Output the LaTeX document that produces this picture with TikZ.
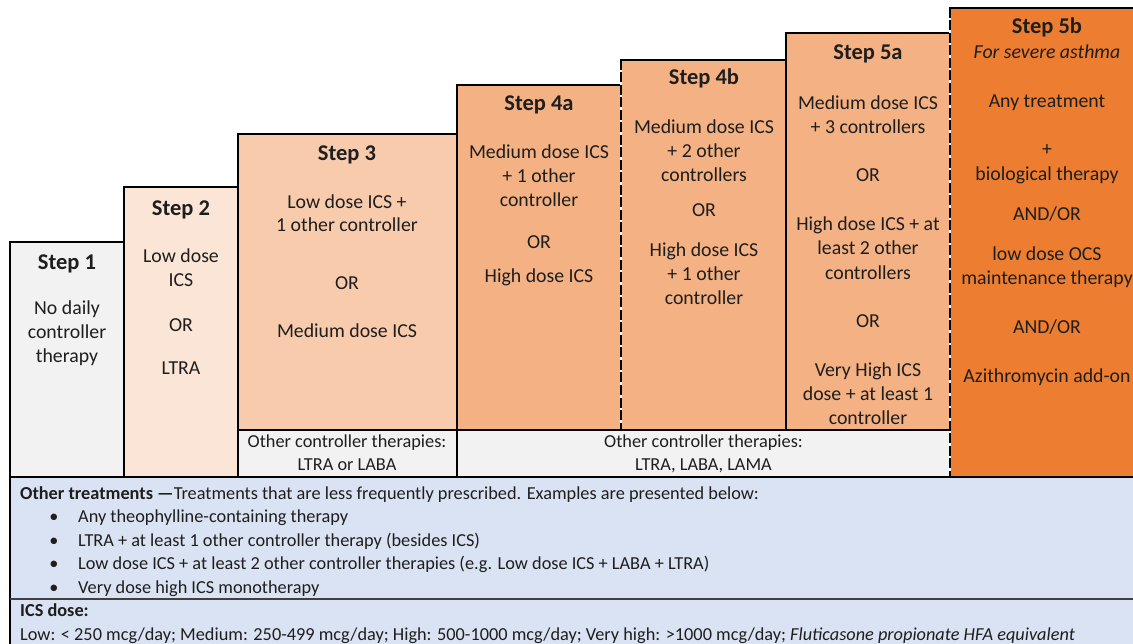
\documentclass[tikz,border=0pt]{standalone}
\usepackage{fontspec}
\setmainfont{Carlito}
\definecolor{stepone}{HTML}{F2F2F2}
\definecolor{steptwo}{HTML}{FBE5D6}
\definecolor{stepthree}{HTML}{F8CBAD}
\definecolor{stepfour}{HTML}{F4B183}
\definecolor{stepfive}{HTML}{ED7D31}
\definecolor{othergrey}{HTML}{F2F2F2}
\definecolor{panelblue}{HTML}{DAE3F3}
\definecolor{txt}{HTML}{1E1E1E}
\begin{document}
\begin{tikzpicture}[x=1pt,y=-1pt,
  frame/.style={line width=2.8pt, draw=black, line cap=rect},
  dashsep/.style={line width=2.8pt, draw=black, line cap=butt, dash pattern=on 10pt off 2.5pt},
  gapsep/.style={line width=2.8pt, draw=white, line cap=butt},
  tx/.style={anchor=base, inner sep=0pt, yshift=-1.5pt, text=txt, font=\fontsize{19.8}{24}\selectfont},
  ttl/.style={anchor=base, inner sep=0pt, yshift=-1pt, text=txt, font=\fontsize{22.5}{27}\selectfont\bfseries},
  sm/.style={anchor=base, inner sep=0pt, yshift=-1.2pt, text=txt, font=\fontsize{18.3}{22}\selectfont},
  smw/.style={sm, anchor=base west}]
\useasboundingbox (0,0) rectangle (1133,644);
\clip (0,0) rectangle (1133,644);
\fill[white] (0,0) rectangle (1133,644);

% step columns
\fill[stepone]   (10,242)  rectangle (124,477);
\fill[steptwo]   (124,187) rectangle (238,477);
\fill[stepthree] (238,134) rectangle (457,430);
\fill[stepfour]  (457,85)  rectangle (621,430);
\fill[stepfour]  (621,60)  rectangle (786,430);
\fill[stepfour]  (786,33)  rectangle (950,430);
\fill[stepfive]  (950,8)   rectangle (1160,477);
% other controller strips
\fill[othergrey] (238,430) rectangle (457,477);
\fill[othergrey] (457,430) rectangle (950,477);
% lower panel
\fill[panelblue] (10,477) rectangle (1160,660);

% outlines of the staircase
\draw[frame] (10,660) -- (10,242) -- (124,242);
\draw[frame] (124,477) -- (124,187) -- (238,187);
\draw[frame] (238,477) -- (238,134) -- (457,134);
\draw[frame] (457,477) -- (457,85) -- (621,85);
\draw[frame] (621,60) -- (786,60);
\draw[frame] (786,430) -- (786,33) -- (950,33);
\draw[frame] (950,8) -- (1160,8);
\draw[frame] (238,430) -- (950,430);
\draw[frame] (10,477) -- (1160,477);
% dashed dividers
\draw[gapsep] (621,60) -- (621,430);
\draw[dashsep] (621,60) -- (621,430);
\draw[gapsep] (950,8) -- (950,477);
\draw[dashsep] (950,8) -- (950,477);
% separator in the lower panel
\draw[line width=1.6pt, draw=black!75] (10,599) -- (1160,599);

% Step 1
\node[ttl] (s1t) at (67,269) {Step 1};
\node[tx] (s1a) at (67,313) {No daily};
\node[tx] (s1b) at (67,337) {controller};
\node[tx] (s1c) at (67,361) {therapy};
% Step 2
\node[ttl] (s2t) at (181,215) {Step 2};
\node[tx] (s2a) at (181,261) {Low dose};
\node[tx] (s2b) at (181,285) {ICS};
\node[tx] (s2c) at (181,330) {OR};
\node[tx] (s2d) at (181,373) {LTRA};
% Step 3
\node[ttl] (s3t) at (347,160) {Step 3};
\node[tx] (s3a) at (347,207) {Low dose ICS +};
\node[tx] (s3b) at (347,230) {1 other controller};
\node[tx] (s3c) at (347,288) {OR};
\node[tx] (s3d) at (347,336) {Medium dose ICS};
\node[sm] (o3a) at (347,446.5) {Other controller therapies:};
\node[sm] (o3b) at (347,469.5) {LTRA or LABA};
% Step 4a
\node[ttl] (s4at) at (539,110) {Step 4a};
\node[tx] (s4aa) at (539,157) {Medium dose ICS};
\node[tx] (s4ab) at (539,181) {+ 1 other};
\node[tx] (s4ac) at (539,205) {controller};
\node[tx] (s4ad) at (539,247) {OR};
\node[tx] (s4ae) at (539,281) {High dose ICS};
% Step 4b
\node[ttl] (s4bt) at (704,84) {Step 4b};
\node[tx] (s4ba) at (704,132) {Medium dose ICS};
\node[tx] (s4bb) at (704,156) {+ 2 other};
\node[tx] (s4bc) at (704,180) {controllers};
\node[tx] (s4bd) at (704,215) {OR};
\node[tx] (s4be) at (704,255) {High dose ICS};
\node[tx] (s4bf) at (704,279) {+ 1 other};
\node[tx] (s4bg) at (704,303) {controller};
% Step 5a
\node[ttl] (s5at) at (868,59) {Step 5a};
\node[tx] (s5aa) at (868,108) {Medium dose ICS};
\node[tx] (s5ab) at (868,132) {+ 3 controllers};
\node[tx] (s5ac) at (868,180) {OR};
\node[tx] (s5ad) at (868,229) {High dose ICS + at};
\node[tx] (s5ae) at (868,253) {least 2 other};
\node[tx] (s5af) at (868,278) {controllers};
\node[tx] (s5ag) at (868,326) {OR};
\node[tx] (s5ah) at (868,375) {Very High ICS};
\node[tx] (s5ai) at (868,399) {dose + at least 1};
\node[tx] (s5aj) at (868,423) {controller};
\node[sm] (o4a) at (703.5,446.5) {Other controller therapies:};
\node[sm] (o4b) at (703.5,469.5) {LTRA, LABA, LAMA};
% Step 5b
\node[ttl] (s5bt) at (1047,33) {Step 5b};
\node[tx, font=\fontsize{19.8}{24}\selectfont\itshape] (s5bs) at (1047,57) {For severe asthma};
\node[tx] (s5ba) at (1047,106) {Any treatment};
\node[tx] (s5bb) at (1047,154) {+};
\node[tx] (s5bc) at (1047,179) {biological therapy};
\node[tx] (s5bd) at (1047,219) {AND/OR};
\node[tx] (s5be) at (1047,259) {low dose OCS};
\node[tx] (s5bf) at (1047,283) {maintenance therapy};
\node[tx] (s5bg) at (1047,332) {AND/OR};
\node[tx] (s5bh) at (1047,381) {Azithromycin add-on};

% lower panel text
\node[smw] (oth) at (20,498.5) {\textbf{Other treatments —}Treatments that are less frequently prescribed. Examples are presented below:};
\node[sm] (b1) at (54,521.5) {\textbullet};
\node[smw] (l1) at (78,521.5) {Any theophylline-containing therapy};
\node[sm] (b2) at (54,545.5) {\textbullet};
\node[smw] (l2) at (78,545.5) {LTRA + at least 1 other controller therapy (besides ICS)};
\node[sm] (b3) at (54,568.5) {\textbullet};
\node[smw] (l3) at (78,568.5) {Low dose ICS + at least 2 other controller therapies (e.g. Low dose ICS + LABA + LTRA)};
\node[sm] (b4) at (54,592.5) {\textbullet};
\node[smw] (l4) at (78,592.5) {Very dose high ICS monotherapy};
\node[smw, font=\fontsize{18.3}{22}\selectfont\bfseries] (icsh) at (20,615.5) {ICS dose:};
\node[smw] (icsl) at (20,639.5) {Low: < 250 mcg/day; Medium: 250-499 mcg/day; High: 500-1000 mcg/day; Very high: >1000 mcg/day; \textit{Fluticasone propionate HFA equivalent}};
\end{tikzpicture}
\end{document}
